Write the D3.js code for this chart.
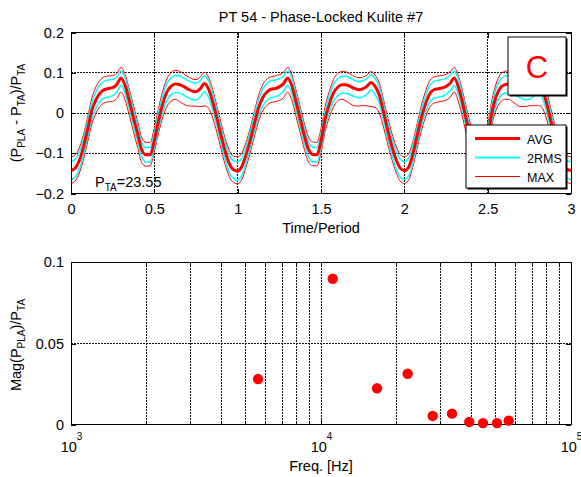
<!DOCTYPE html>
<html><head><meta charset="utf-8">
<script src="https://cdn.jsdelivr.net/npm/d3@7/dist/d3.min.js"></script>
<style>
body{margin:0;background:#fff}
svg{display:block}
text{font-family:"Liberation Sans",Arial,Helvetica,sans-serif;fill:#000}
</style>
</head><body>
<svg id="chart" width="581" height="477"></svg>
<script>
// ---------------- DATA ----------------
const titleText = "PT 54 - Phase-Locked Kulite #7";
const timeStart = 0;
const timeStep = 0.025;           // sample spacing in Time/Period
// phase-locked average (P_PLA - P_TA)/P_TA
const avgValues = [
 -0.143,-0.137,-0.118,-0.084,-0.040, 0.006, 0.033, 0.050, 0.058, 0.061,
  0.063, 0.071, 0.087, 0.068, 0.030,-0.012,-0.052,-0.092,-0.104,-0.104,
 -0.068,-0.020, 0.022, 0.052, 0.066, 0.072, 0.071, 0.066, 0.060, 0.055,
  0.053, 0.060, 0.073, 0.060, 0.028,-0.012,-0.055,-0.095,-0.126,-0.141,
 -0.144,-0.133,-0.104,-0.068,-0.027, 0.012, 0.038, 0.052, 0.059, 0.061,
  0.065, 0.073, 0.087, 0.068, 0.028,-0.014,-0.056,-0.090,-0.103,-0.104,
 -0.070,-0.015, 0.022, 0.050, 0.064, 0.070, 0.070, 0.066, 0.061, 0.058,
  0.060, 0.066, 0.076, 0.066, 0.044, 0.003,-0.042,-0.082,-0.115,-0.137,
 -0.143,-0.135,-0.104,-0.060,-0.015, 0.020, 0.046, 0.057, 0.060, 0.062,
  0.066, 0.074, 0.087, 0.064, 0.024,-0.022,-0.062,-0.094,-0.104,-0.102,
 -0.060, 0.000, 0.040, 0.062, 0.070, 0.072, 0.070, 0.064, 0.058, 0.054,
  0.054, 0.062, 0.074, 0.062, 0.030,-0.012,-0.055,-0.095,-0.125,-0.140,
 -0.143
];
// 2RMS half-width about the average
const rmsValues = [
 0.022,0.022,0.021,0.020,0.020,0.020,0.020,0.021,0.021,0.021,
 0.020,0.019,0.018,0.019,0.020,0.020,0.019,0.018,0.018,0.018,
 0.018,0.019,0.020,0.021,0.021,0.021,0.021,0.021,0.021,0.021,
 0.021,0.020,0.020,0.020,0.020,0.020,0.020,0.021,0.022,0.022,
 0.023,0.022,0.021,0.020,0.020,0.020,0.021,0.021,0.021,0.021,
 0.020,0.019,0.018,0.019,0.020,0.020,0.019,0.018,0.018,0.018,
 0.018,0.019,0.020,0.021,0.021,0.021,0.021,0.021,0.020,0.020,
 0.020,0.020,0.019,0.020,0.020,0.020,0.021,0.021,0.022,0.022,
 0.022,0.022,0.021,0.020,0.020,0.020,0.020,0.021,0.021,0.021,
 0.020,0.019,0.018,0.019,0.020,0.020,0.019,0.018,0.018,0.018,
 0.018,0.019,0.020,0.021,0.021,0.021,0.021,0.021,0.021,0.021,
 0.020,0.020,0.020,0.020,0.020,0.020,0.020,0.021,0.022,0.022,
 0.022
];
// MAX envelope: distance above the average
const maxAbove = [
 0.034,0.033,0.031,0.030,0.030,0.031,0.032,0.032,0.032,0.031,
 0.030,0.028,0.026,0.027,0.029,0.030,0.030,0.030,0.031,0.031,
 0.031,0.031,0.032,0.033,0.034,0.034,0.033,0.032,0.031,0.030,
 0.030,0.029,0.028,0.029,0.030,0.030,0.031,0.032,0.033,0.034,
 0.035,0.033,0.031,0.030,0.030,0.031,0.032,0.032,0.031,0.031,
 0.030,0.028,0.026,0.027,0.029,0.030,0.030,0.030,0.031,0.031,
 0.031,0.031,0.032,0.033,0.034,0.033,0.032,0.031,0.030,0.030,
 0.029,0.028,0.027,0.028,0.030,0.030,0.031,0.032,0.033,0.034,
 0.034,0.033,0.031,0.030,0.030,0.031,0.032,0.032,0.032,0.031,
 0.030,0.028,0.026,0.027,0.029,0.030,0.030,0.030,0.031,0.031,
 0.031,0.031,0.032,0.033,0.033,0.033,0.032,0.031,0.031,0.030,
 0.030,0.029,0.028,0.029,0.030,0.030,0.031,0.032,0.033,0.034,
 0.034
];
// MAX envelope: distance below the average
const maxBelow = [
 0.032,0.032,0.031,0.031,0.032,0.033,0.033,0.033,0.033,0.033,
 0.034,0.035,0.035,0.036,0.036,0.035,0.034,0.032,0.028,0.027,
 0.028,0.030,0.033,0.036,0.037,0.038,0.042,0.044,0.042,0.038,
 0.036,0.044,0.055,0.048,0.040,0.036,0.034,0.033,0.032,0.032,
 0.032,0.032,0.031,0.031,0.032,0.033,0.033,0.033,0.033,0.033,
 0.034,0.035,0.035,0.036,0.036,0.035,0.034,0.032,0.028,0.027,
 0.028,0.030,0.033,0.035,0.034,0.036,0.040,0.043,0.043,0.041,
 0.041,0.048,0.060,0.052,0.044,0.038,0.035,0.033,0.032,0.032,
 0.032,0.032,0.031,0.031,0.032,0.033,0.033,0.033,0.033,0.033,
 0.034,0.035,0.035,0.036,0.036,0.035,0.034,0.032,0.028,0.027,
 0.028,0.030,0.033,0.036,0.036,0.038,0.042,0.044,0.042,0.038,
 0.036,0.044,0.055,0.048,0.040,0.036,0.034,0.033,0.032,0.032,
 0.032
];
const ptaText = "=23.55";
const legendLabels = ["AVG", "2RMS", "MAX"];
const topXTicks = [0, 0.5, 1, 1.5, 2, 2.5, 3];
const topYTicks = [-0.2, -0.1, 0, 0.1, 0.2];
// spectrum
const freqHz = [5600, 11140, 16750, 22220, 27980, 33420, 39180, 44460, 50580, 56330];
const magValues = [0.0281, 0.0899, 0.0224, 0.0314, 0.0054, 0.0068, 0.0017, 0.0010, 0.0010, 0.0025];
const botYTicks = [0, 0.05, 0.1];
const botXMajor = [1e3, 1e4, 1e5];

// ---------------- DRAW ----------------
(function(){
const svg = d3.select("#chart");
svg.append("rect").attr("width",581).attr("height",477).attr("fill","#fff");
const FS = 14.5, SUB = 10;

const L = 71, R = 571;
const topT = 32.5, topB = 193.5;
const botT = 262.3, botB = 424.7;

const xT = d3.scaleLinear().domain([0,3]).range([L,R]);
const yT = d3.scaleLinear().domain([-0.2,0.2]).range([topB,topT]);
const xF = d3.scaleLog().domain([1e3,1e5]).range([L,R]);
const yF = d3.scaleLinear().domain([0,0.1]).range([botB,botT]);

const gridStyle = s => s.attr("stroke","#111").attr("stroke-width",1)
  .attr("stroke-dasharray","2,1").attr("shape-rendering","crispEdges");

// ---- top panel ----
const topG = svg.append("g");
topG.selectAll("line.vg").data(topXTicks).join("line")
  .attr("x1",d=>xT(d)).attr("x2",d=>xT(d)).attr("y1",topT).attr("y2",topB).call(gridStyle);
topG.selectAll("line.hg").data(topYTicks).join("line")
  .attr("x1",L).attr("x2",R).attr("y1",d=>yT(d)).attr("y2",d=>yT(d)).call(gridStyle);

svg.append("clipPath").attr("id","clipT").append("rect")
  .attr("x",L).attr("y",topT).attr("width",R-L).attr("height",topB-topT);

const pts = avgValues.map((v,i)=>({t: timeStart + i*timeStep, v, r: rmsValues[i], up: maxAbove[i], lo: maxBelow[i]}));
const mk = f => d3.line().x(d=>xT(d.t)).y(d=>yT(f(d))).curve(d3.curveMonotoneX);
const lines = topG.append("g").attr("clip-path","url(#clipT)").attr("fill","none");
lines.append("path").attr("d", mk(d=>d.v+d.up)(pts)).attr("stroke","#ff0000").attr("stroke-width",1);
lines.append("path").attr("d", mk(d=>d.v-d.lo)(pts)).attr("stroke","#ff0000").attr("stroke-width",1);
lines.append("path").attr("d", mk(d=>d.v+d.r)(pts)).attr("stroke","#00ffff").attr("stroke-width",1.5);
lines.append("path").attr("d", mk(d=>d.v-d.r)(pts)).attr("stroke","#00ffff").attr("stroke-width",1.5);
lines.append("path").attr("d", mk(d=>d.v)(pts)).attr("stroke","#ff0000").attr("stroke-width",3);

function axesFrame(g, x0, y0, x1, y1){
  g.append("rect").attr("x",x0).attr("y",y0).attr("width",x1-x0).attr("height",y1-y0)
   .attr("fill","none").attr("stroke","#000").attr("stroke-width",1).attr("shape-rendering","crispEdges");
}
function styleAxis(g){
  g.select(".domain").remove();
  g.selectAll(".tick line").attr("stroke","#000").attr("shape-rendering","crispEdges");
  g.selectAll("text").attr("font-size",FS).attr("font-family",null).attr("fill","#000");
}
topG.append("g").attr("transform",`translate(0,${topB})`)
  .call(d3.axisBottom(xT).tickValues(topXTicks).tickSize(-5).tickPadding(10).tickFormat(d3.format("")))
  .call(styleAxis);
topG.append("g").attr("transform",`translate(0,${topT})`)
  .call(d3.axisTop(xT).tickValues(topXTicks).tickSize(-5).tickFormat(""))
  .call(styleAxis);
topG.append("g").attr("transform",`translate(${L},0)`)
  .call(d3.axisLeft(yT).tickValues(topYTicks).tickSize(-5).tickPadding(7).tickFormat(d3.format("")))
  .call(styleAxis);
topG.append("g").attr("transform",`translate(${R},0)`)
  .call(d3.axisRight(yT).tickValues(topYTicks).tickSize(-5).tickFormat(""))
  .call(styleAxis);
axesFrame(topG, L, topT, R, topB);

// title, labels
svg.append("text").attr("x",(L+R)/2).attr("y",22).attr("text-anchor","middle")
  .attr("font-size",FS).text(titleText);
svg.append("text").attr("x",(L+R)/2).attr("y",233).attr("text-anchor","middle")
  .attr("font-size",FS).text("Time/Period");

function subLabel(x, y, parts){
  const t = svg.append("text").attr("transform",`translate(${x},${y}) rotate(-90)`)
    .attr("text-anchor","middle").attr("font-size",FS);
  let cur = 0;
  parts.forEach(([s,sub])=>{
    const sh = sub ? 4 : 0;
    t.append("tspan").attr("dy", sh-cur).attr("font-size", sub?SUB:FS).text(s);
    cur = sh;
  });
  return t;
}
subLabel(21, 113, [["(P",0],["PLA",1],[" - P",0],["TA",1],[")/P",0],["TA",1]]);

// P_TA annotation
const pt = svg.append("text").attr("x",95).attr("y",187).attr("font-size",FS);
pt.append("tspan").text("P");
pt.append("tspan").attr("dy",4).attr("font-size",SUB).text("TA");
pt.append("tspan").attr("dy",-4).text(ptaText);

// "C" box
svg.append("rect").attr("x",509.5).attr("y",38.5).attr("width",58).attr("height",58).attr("fill","#000");
svg.append("rect").attr("x",508).attr("y",37).attr("width",58).attr("height",58)
  .attr("fill","#fff").attr("stroke","#000").attr("stroke-width",1);
svg.append("text").attr("x",537).attr("y",77.5).attr("text-anchor","middle")
  .attr("font-size",31).style("fill","#ff0000").text("C");

// legend
svg.append("rect").attr("x",467.5).attr("y",126.5).attr("width",100).attr("height",63).attr("fill","#000");
svg.append("rect").attr("x",466).attr("y",125).attr("width",100).attr("height",63)
  .attr("fill","#fff").attr("stroke","#000").attr("stroke-width",1);
const legY = [138.5, 157.5, 176.5];
const legStyle = [["#ff0000",3],["#00ffff",2],["#ff0000",1]];
legendLabels.forEach((lab,i)=>{
  svg.append("line").attr("x1",475).attr("x2",520).attr("y1",legY[i]).attr("y2",legY[i])
    .attr("stroke",legStyle[i][0]).attr("stroke-width",legStyle[i][1]);
  svg.append("text").attr("x",527).attr("y",legY[i]+5).attr("font-size",12.5).text(lab);
});

// ---- bottom panel ----
const bot = svg.append("g");
const minorTicks = xF.ticks().filter(d=>d>1e3 && d<1e5);
bot.selectAll("line.vg").data(minorTicks).join("line")
  .attr("x1",d=>xF(d)).attr("x2",d=>xF(d)).attr("y1",botT).attr("y2",botB).call(gridStyle);
bot.selectAll("line.hg").data(botYTicks).join("line")
  .attr("x1",L).attr("x2",R).attr("y1",d=>yF(d)).attr("y2",d=>yF(d)).call(gridStyle);

const allLogTicks = xF.ticks();
const tickLen = d => botXMajor.includes(d) ? -5 : -3;
[["b",botB],["t",botT]].forEach(([side,y])=>{
  bot.append("g").selectAll("line").data(allLogTicks).join("line")
    .attr("x1",d=>xF(d)).attr("x2",d=>xF(d))
    .attr("y1",y).attr("y2",d=> side==="b" ? y+tickLen(d) : y-tickLen(d))
    .attr("stroke","#000").attr("shape-rendering","crispEdges");
});
const xb = bot.append("g").attr("transform",`translate(0,${botB})`)
  .call(d3.axisBottom(xF).tickValues(botXMajor).tickSize(0).tickPadding(17).tickFormat(""))
  .call(styleAxis);
xb.selectAll(".tick text").each(function(d){
  const t = d3.select(this);
  t.append("tspan").text("10");
  t.append("tspan").attr("dy",-12).attr("font-size",SUB).text(Math.round(Math.log10(d)));
});
bot.append("g").attr("transform",`translate(${L},0)`)
  .call(d3.axisLeft(yF).tickValues(botYTicks).tickSize(-5).tickPadding(7).tickFormat(d3.format("")))
  .call(styleAxis);
bot.append("g").attr("transform",`translate(${R},0)`)
  .call(d3.axisRight(yF).tickValues(botYTicks).tickSize(-5).tickFormat(""))
  .call(styleAxis);
axesFrame(bot, L, botT, R, botB);

bot.selectAll("circle.pt").data(freqHz.map((f,i)=>({f, m: magValues[i]}))).join("circle")
  .attr("cx",d=>xF(d.f)).attr("cy",d=>yF(d.m)).attr("r",5.2).attr("fill","#ff0000");

svg.append("text").attr("x",(L+R)/2).attr("y",471).attr("text-anchor","middle")
  .attr("font-size",FS).text("Freq. [Hz]");
subLabel(21, 345, [["Mag(P",0],["PLA",1],[")/P",0],["TA",1]]);
})();
</script>
</body></html>
